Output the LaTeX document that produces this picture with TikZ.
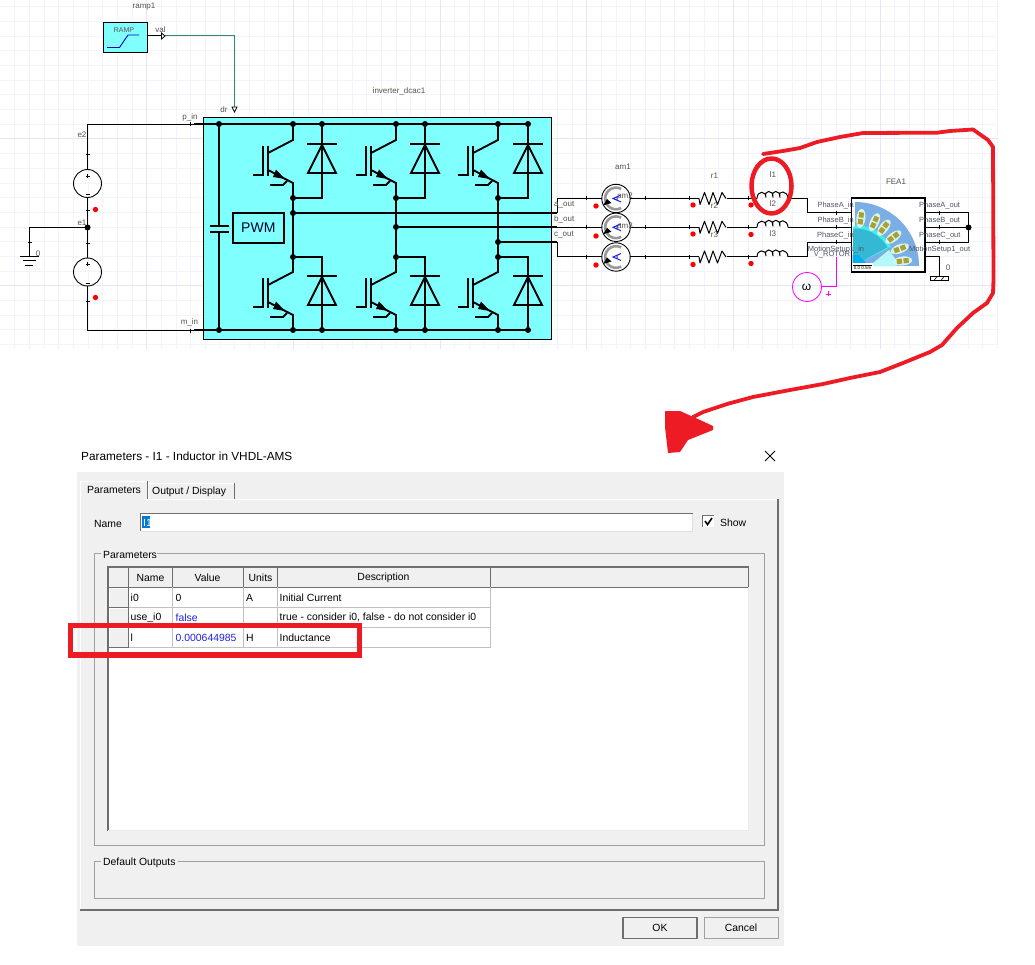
\documentclass[tikz,border=0pt]{standalone}
\usepackage{fontspec}
\setmainfont{Liberation Sans}
\definecolor{gridminor}{HTML}{F3F3FD}
\definecolor{gridmajor}{HTML}{E6E6F8}
\definecolor{blockcyan}{HTML}{80FFFF}
\definecolor{labelgrey}{HTML}{5A5048}
\definecolor{portgrey}{HTML}{4E5566}
\definecolor{wiregreen}{HTML}{2E8B62}
\definecolor{markred}{HTML}{ED1C24}
\definecolor{dotred}{HTML}{FF0000}
\definecolor{dlgbg}{HTML}{F0F0F0}
\definecolor{dlgline}{HTML}{A0A0A0}
\definecolor{dlgdark}{HTML}{6E6E6E}
\definecolor{cellline}{HTML}{C0C0C0}
\definecolor{valblue}{HTML}{2020E0}
\definecolor{selblue}{HTML}{0078D7}
\definecolor{magen}{HTML}{FF00FF}
\definecolor{statorblue}{HTML}{7AAEE4}
\definecolor{rotorteal}{HTML}{34B8D4}
\definecolor{gapcyan}{HTML}{40F0E8}
\definecolor{wedgepale}{HTML}{B4F8FA}
\definecolor{slotolive}{HTML}{A8A030}
\definecolor{slotpale}{HTML}{D8F4EC}
\tikzset{
  x=1pt,y=-1pt,
  thin wire/.style={line width=1pt,black},
  thick wire/.style={line width=1.9pt,black},
  sl/.style={font=\fontsize{8}{9}\selectfont,text=labelgrey,inner sep=0pt},
  pl/.style={font=\fontsize{7.5}{9}\selectfont,text=portgrey,inner sep=0pt},
  dl/.style={font=\fontsize{10.4}{12}\selectfont,text=black,inner sep=0pt,anchor=west},
  hcell/.style={font=\fontsize{10.4}{12}\selectfont,text=black,inner sep=0pt},
  btnface/.style={fill=dlgbg,draw=dlgdark,line width=1pt},
  dotk/.style={fill=black,draw=none},
  reddot/.style={fill=dotred,draw=none},
  redmark/.style={draw=markred,line join=round,line cap=round},
}
\newcommand{\jdot}[2]{\fill[dotk] (#1,#2) circle (3pt);}
\newcommand{\rdot}[2]{\fill[reddot] (#1,#2) circle (2.7pt);}
\newcommand{\tick}[2]{\draw[line width=.8pt] (#1-0,#2-2) -- (#1,#2+2);}
\newcommand{\vtick}[2]{\draw[line width=.8pt] (#1-2,#2) -- (#1+2,#2);}
% IGBT with diode: #1 column x, #2 base y, #3 diode offset
\newcommand{\igbtcell}[3]{%
\begin{scope}[shift={(#1,#2)}]
  \draw[thick wire] (0,2) -- (0,16) -- (-25,29);
  \draw[thick wire] (-25,22) -- (-25,52);
  \draw[thick wire] (-30,22) -- (-30,52);
  \draw[thick wire] (-40,51) -- (-29,51);
  \draw[thick wire] (-25,46) -- (0,59) -- (0,72);
  \fill[black] (-8,55) -- (-17,45.5) -- (-20,53) -- cycle;
  \draw[thick wire] (-23,61) -- (-10,61) -- (-6,57);
  \draw[thick wire] (#3-15,20) -- (#3+15,20);
  \draw[thick wire] (#3,21) -- (#3-14,49) -- (#3+14,49) -- cycle;
\end{scope}}
\newcommand{\ammeter}[2]{%
  \draw[line width=.9pt,fill=white] (#1,#2) circle (14.2pt);
  \draw[line width=2.6pt,gray!80] plot[domain=62:298,samples=30] ({#1+10.8*cos(\x)},{#2+10.8*sin(\x)});
  \fill[black] (#1-13,#2+7) -- (#1-9,#2+0.5) -- (#1-4.5,#2+4.5) -- cycle;
  \draw[valblue,line width=1pt] (#1+5,#2-3.5) -- (#1-3,#2) -- (#1+5,#2+3.5) (#1+1,#2-2) -- (#1+1,#2+2);
}
\newcommand{\resist}[2]{%
  \draw[thin wire,line join=round] (#1,#2) -- (#1+1,#2+6) -- (#1+5.5,#2-6) -- (#1+10,#2+6) -- (#1+14,#2-6) -- (#1+18.5,#2+6) -- (#1+23,#2-6) -- (#1+27,#2);
}
\newcommand{\induct}[2]{%
  \draw[thin wire] (#1,#2) .. controls (#1,#2-8) and (#1+9,#2-8) .. (#1+9,#2-1)
    .. controls (#1+6,#2-9) and (#1+17,#2-9) .. (#1+16,#2-1)
    .. controls (#1+13,#2-9) and (#1+24,#2-9) .. (#1+23,#2-1)
    .. controls (#1+20,#2-9) and (#1+31,#2-8) .. (#1+31,#2);
}
\begin{document}
\begin{tikzpicture}
\useasboundingbox (0,0) rectangle (1035,965);
\fill[white] (0,0) rectangle (1035,965);
% ---------- grid
\foreach \k in {1,...,68}{\draw[gridminor,line width=1pt] ({\k*14.67},0) -- ({\k*14.67},349);}
\foreach \k in {1,...,24}{\draw[gridminor,line width=1pt] (0,{\k*14.67-7.7}) -- (998,{\k*14.67-7.7});}
\foreach \k in {1,2,...,6}{\draw[gridmajor,line width=1pt] ({\k*146.7},0) -- ({\k*146.7},349);}
\foreach \k in {1,2}{\draw[gridmajor,line width=1pt] (0,{\k*146.7-7.7}) -- (998,{\k*146.7-7.7});}

% ---------- ramp block
\node[sl] (ramplbl) at (144,7) {ramp1};
\node[draw=black,line width=1pt,fill=blockcyan,minimum width=44pt,minimum height=30pt,inner sep=0pt] (rampbox) at (125.5,37.5) {};
\node[sl,font=\fontsize{7}{8}\selectfont] (ramptxt) at (124,30.5) {RAMP};
\draw[blue!80!black,line width=.9pt] (107,47.5) -- (119.5,47.5) -- (128,35) -- (139,35);
\coordinate (valpt) at (161.5,36);
\draw[thin wire] (rampbox.east |- valpt) -- (valpt);
\node[sl] (vallbl) at (160.5,30) {val};
\draw[wiregreen,line width=1pt] (valpt) -- (234.5,36) -- (234.5,107);
\draw[line width=.8pt,fill=white] (161.5,33) -- (165,36) -- (161.5,39) -- cycle;
\draw[line width=.8pt,fill=white] (232,107) -- (237,107) -- (234.5,112) -- cycle;
\node[sl] (drlbl) at (224,110) {dr};

% ---------- inverter
\node[sl] (invlbl) at (399,91) {inverter\_dcac1};
\node[draw=black,line width=1pt,fill=blockcyan,minimum width=347.5pt,minimum height=222pt,inner sep=0pt] (invbox) at (377.25,228.5) {};
\draw[thick wire] (194,124) -- (528,124);
\draw[thick wire] (194,330) -- (528,330);
% capacitor
\draw[thick wire] (219,124) -- (219,226) (219,232) -- (219,330);
\draw[thick wire] (210,226) -- (229,226) (210,232) -- (229,232);
\node[draw=black,line width=1.9pt,minimum width=51pt,minimum height=30pt,inner sep=0pt,font=\fontsize{14}{16}\selectfont,text=black!80!blue] (pwm) at (258.3,228) {PWM};
% cells
\igbtcell{293}{124}{29}
\igbtcell{396}{124}{29}
\igbtcell{498}{124}{30}
\igbtcell{293}{256}{29}
\igbtcell{396}{256}{29}
\igbtcell{498}{256}{30}
\foreach \cx/\dx in {293/322,396/425,498/528}{
  \draw[thick wire] (\cx,196) -- (\cx,272);
  \draw[thick wire] (\cx,198) -- (\dx,198) -- (\dx,124);
  \draw[thick wire] (\cx,257) -- (\dx,257) -- (\dx,330);
  \draw[thick wire] (\cx,316) -- (\cx,330);
  \jdot{\cx}{124}\jdot{\cx}{198}\jdot{\cx}{257}\jdot{\cx}{330}
  \jdot{\dx}{124}\jdot{\dx}{330}
}
\jdot{219}{124}\jdot{219}{330}
\draw[thick wire] (293,213) -- (557,213);
\draw[thick wire] (396,227) -- (557,227);
\draw[thick wire] (498,242) -- (557,242);
\jdot{293}{213}\jdot{396}{227}\jdot{498}{242}

% ---------- DC side
\node[sl] (pin) at (190,117) {p\_in};
\node[sl] (min) at (189.5,322.5) {m\_in};
\node[sl] (e2) at (82,135) {e2};
\node[sl] (e1) at (82,223) {e1};
\node[draw=black,line width=.9pt,circle,minimum size=28pt,inner sep=0pt] (src1) at (87.5,183.5) {};
\node[draw=black,line width=.9pt,circle,minimum size=28pt,inner sep=0pt] (src2) at (87.5,272) {};
\coordinate (e1pt) at (87.5,227.5);
\draw[thin wire] (194,124.5) -- (87.5,124.5) -- (src1.north);
\draw[thin wire] (src1.south) -- (e1pt) -- (src2.north);
\draw[thin wire] (src2.south) -- (87.5,330.5) -- (194,330.5);
\draw[thin wire] (e1pt) -- (29.5,227.5) -- (29.5,257);
\jdot{87.5}{227.5}
\vtick{87.5}{154.5}\vtick{87.5}{210}\vtick{87.5}{243}\vtick{87.5}{301}\vtick{29.5}{242}
\tick{190.5}{124.5}\tick{190.5}{330.5}
\draw[line width=.8pt] (85.5,176) -- (89.5,176) (87.5,174) -- (87.5,178) (85.5,194.5) -- (89.5,194.5);
\draw[line width=.8pt] (85.5,264) -- (89.5,264) (87.5,262) -- (87.5,266) (85.5,283) -- (89.5,283);
\rdot{95.5}{209.5}\rdot{95.5}{297.5}
\draw[line width=1pt] (20,257) -- (39,257) (23,261) -- (36,261) (25,265.5) -- (33,265.5);
\node[sl] (gnd0) at (38,254) {0};

% ---------- output labels and ammeters
\draw[thin wire] (557,213) -- (557,198.5) -- (602,198.5);
\draw[thin wire] (557,227.3) -- (602,227.3);
\draw[thin wire] (557,242) -- (557,257) -- (602,257);
\node[sl,anchor=west] (aout) at (554,205) {a\_out};
\node[sl,anchor=west] (bout) at (554,219.5) {b\_out};
\node[sl,anchor=west] (cout) at (554,234.5) {c\_out};
\foreach \y in {198.5,227.3,257}{\tick{586.7}{\y}}
\foreach \y/\n in {198.5/1,227.3/2,257/3}{
  \draw[thin wire] (630,\y) -- (699,\y);
  \draw[thin wire] (727,\y) -- (757,\y);
  \tick{645.5}{\y}\tick{689.5}{\y}\tick{748}{\y}
  \resist{699}{\y}
  \induct{757}{\y}
  \ammeter{616}{\y}
}
\node[sl] (am1) at (623,167) {am1};
\node[sl] (am2) at (625,196) {am2};
\node[sl] (am3) at (625,226) {am3};
\rdot{596}{206}\rdot{596}{236}\rdot{596}{265}
\rdot{693}{205}\rdot{693}{234}\rdot{693}{264.5}
\rdot{751}{205}\rdot{751}{234.5}\rdot{751}{263.5}
\node[sl] (r1) at (714.5,176) {r1};
\node[sl] (r2) at (714.5,206) {r2};
\node[sl] (r3) at (714.5,235) {r3};
\node[sl] (l1) at (773,175) {l1};
\node[sl] (l2) at (773,204) {l2};
\node[sl] (l3) at (773,234) {l3};

% ---------- FEA block
\node[sl] (fealbl) at (896,182) {FEA1};
\node[draw=black,line width=1pt,fill=white,minimum width=73pt,minimum height=73.5pt,inner sep=0pt] (fea) at (888,235) {};
\draw[thin wire] (788,198.5) -- (807,198.5) -- (807,212.7) -- (fea.west |- 0,212.7);
\draw[thin wire] (788,227.3) -- (fea.west |- 0,227.3);
\draw[thin wire] (788,257) -- (807,257) -- (807,242.3) -- (fea.west |- 0,242.3);
\foreach \y in {212.7,227.3,242.3}{\tick{836.5}{\y}\tick{939.5}{\y}}
\draw[thin wire] (fea.east |- 0,212.7) -- (968.5,212.7) -- (968.5,242.3) -- (fea.east |- 0,242.3);
\draw[thin wire] (fea.east |- 0,227.3) -- (968.5,227.3);
\jdot{968.5}{227.5}
\draw[thin wire] (fea.east |- 0,257) -- (939.5,257) -- (939.5,276.5);
\draw[line width=1pt,fill=white] (930.5,276.5) rectangle (948,280.5);
\draw[line width=.6pt] (934,280.5) -- (937,276.5) (941,280.5) -- (944,276.5);
\node[sl] (mg0) at (948,268) {0};
% motor section
\fill[statorblue] (855,266) -- plot[domain=0:90,samples=40] ({855+64*cos(\x)},{266-64*sin(\x)}) -- cycle;
\fill[wedgepale] (873,263) -- (889,250) -- (896,260) -- (897,266.5) -- (873,266.5) -- cycle;
\fill[gapcyan] (853,266) -- (853,226.5) -- (855,226.5) -- plot[domain=90:28,samples=20] ({855+41*cos(\x)},{266-41*sin(\x)}) -- cycle;
\fill[rotorteal] (853,266) -- (853,229.5) -- (855,229.5) -- plot[domain=90:30,samples=20] ({855+37.5*cos(\x)},{266-37.5*sin(\x)}) -- cycle;
\fill[cyan] (852.5,255) -- (858,255) -- (866,263) -- (852.5,263) -- cycle;
\foreach \a in {83,66,53,37,21,6}{
  \begin{scope}[shift={(855,266)},rotate=\a]
    \fill[slotpale] (48,0) ellipse [x radius=9.5pt,y radius=4.5pt];
    \fill[slotolive] (42,-2.5) rectangle (47.2,2.5);
    \fill[slotolive] (48.8,-2.5) rectangle (54,2.5);
  \end{scope}
}
\fill[white] (852.5,263) rectangle (873,271);
\draw[line width=.5pt] (853,265) -- (872,265);
\node[inner sep=0pt,font=\fontsize{4.5}{5}\selectfont] (scalelbl) at (862.5,268) {0.0 0.5m};
\draw[line width=1pt] (fea.south west) rectangle (fea.north east);
% port labels
\node[pl,anchor=east] (pai) at (854,206) {PhaseA\_in};
\node[pl,anchor=east] (pbi) at (854,221) {PhaseB\_in};
\node[pl,anchor=east] (pci) at (854,235.5) {PhaseC\_in};
\node[pl] (msi) at (836,250) {MotionSetup1\_in};
\node[pl,anchor=west] (pao) at (919,206) {PhaseA\_out};
\node[pl,anchor=west] (pbo) at (919,221) {PhaseB\_out};
\node[pl,anchor=west] (pco) at (919,235.5) {PhaseC\_out};
\node[pl,anchor=west] (mso) at (909,250) {MotionSetup1\_out};
\node[pl] (vrot) at (832,255) {V\_ROTOR};
% speed source
\node[draw=magen,line width=.8pt,circle,minimum size=29pt,inner sep=0pt] (omegac) at (807,287) {};
\node[inner sep=0pt,font=\fontsize{12}{12}\selectfont] (omegat) at (806.5,287) {ω};
\draw[magen,line width=1pt] (omegac.east) -- (836.5,287) -- (836.5,257);
\draw[magen,line width=.8pt] (825.5,294) -- (830.5,294) (828,291.5) -- (828,296.5);

% ---------- red hand marks
\draw[redmark,line width=4.5pt] (771.5,186) ellipse [x radius=20pt,y radius=27.5pt];
\draw[redmark,line width=3.8pt] (763,154) -- (783,151) -- (800,148) -- (817,142) -- (840,137) -- (863,133) -- (937,132.7) -- (950,131) -- (973,129.5) -- (988,140) -- (993,147) -- (993.5,280) -- (993,293) -- (987,303) -- (973,313) -- (957,328) -- (942,345) -- (930,352) -- (903,363) -- (880,372) -- (850,378) -- (823,384) -- (790,390) -- (753,397) -- (727,404) -- (703,412) -- (693,417);
\fill[markred] (665,411) -- (680,411) -- (700,420) -- (713,426) -- (713,430) -- (688,440) -- (680,452) -- (668,453) -- (665,427) -- cycle;

% ---------- dialog
\node[dl,font=\fontsize{11.8}{13}\selectfont] (title) at (81,456.5) {Parameters - I1 - Inductor in VHDL-AMS};
\node[inner sep=0pt,minimum size=10pt] (closex) at (770,456) {};
\draw[line width=.8pt] (765,451) -- (775,461) (775,451) -- (765,461);
\fill[dlgbg] (77,472) rectangle (784,946);
% tab page
\draw[white,line width=1pt] (80,910) -- (80,499) -- (778,499);
\draw[dlgdark,line width=1.2pt] (80,910) -- (778,910) -- (778,499);
% tabs
\draw[white,line width=1pt,fill=dlgbg] (80.5,499.5) -- (80.5,481) -- (147,481) -- (147,499.5);
\draw[dlgdark,line width=1pt] (147.3,481) -- (147.3,499);
\draw[white,line width=1pt] (148.5,499) -- (148.5,483) -- (234,483);
\draw[dlgdark,line width=1pt] (234.5,483) -- (234.5,498.5);
\node[dl] (tab1) at (87,489.5) {Parameters};
\node[dl] (tab2) at (152,491.5) {Output / Display};
% name row
\node[dl] (namel) at (94,523.5) {Name};
\fill[white] (140,513) rectangle (692.5,531);
\draw[dlgdark,line width=1pt] (140.5,531) -- (140.5,513.5) -- (692.5,513.5);
\draw[black!12,line width=1pt] (140.5,531) -- (692.5,531) -- (692.5,513.5);
\fill[selblue] (142,516) rectangle (150,528);
\node[dl,text=white] (nameval) at (143,522.5) {I1};
\fill[white] (702.5,515) rectangle (714,527);
\draw[dlgdark,line width=1pt] (702.5,527) -- (702.5,515.5) -- (714,515.5);
\draw[black,line width=1.6pt] (705,521) -- (707.5,524.5) -- (712,518);
\node[dl] (showl) at (720,522.5) {Show};
% groups
\draw[dlgline,line width=1pt] (94.5,553.5) rectangle (764,845.5);
\fill[dlgbg] (101,548) rectangle (157,559);
\node[dl] (grp1) at (103,554.5) {Parameters};
\draw[dlgline,line width=1pt] (94.5,861) rectangle (764,898);
\fill[dlgbg] (101,856) rectangle (178,867);
\node[dl] (grp2) at (103,862.5) {Default Outputs};
% table
\fill[white] (108,587) rectangle (748.5,830.5);
\fill[dlgbg] (108,567) rectangle (748.5,587);
\draw[dlgdark,line width=1.2pt] (108,830.5) -- (108,567) -- (748.5,567) -- (748.5,587);
\draw[dlgdark,line width=1.2pt] (108,587.3) -- (748.5,587.3);
\draw[black!8,line width=1pt] (108,830.5) -- (748.5,830.5) -- (748.5,587);
\foreach \x in {128.3,172.5,243.5,277.5,490.5}{\draw[dlgdark,line width=1pt] (\x,567) -- (\x,587);}
\foreach \y in {607.5,627.5,647.5}{
  \draw[cellline,line width=1pt] (128,\y) -- (490.5,\y);
  \fill[dlgbg] (109,\y-19.5) rectangle (128,\y-.5);
  \draw[dlgdark,line width=.8pt] (109,\y-.5) -- (128,\y-.5) -- (128,\y-19.5);
  \draw[white,line width=.8pt] (109.5,\y-.5) -- (109.5,\y-19.5) -- (128,\y-19.5);
}
\foreach \x in {172.5,243.5,277.5,490.5}{\draw[cellline,line width=1pt] (\x,587) -- (\x,647.5);}
\node[hcell] (hname) at (150.5,577.5) {Name};
\node[hcell] (hval) at (207.5,577.5) {Value};
\node[hcell] (hunit) at (260.5,577.5) {Units};
\node[hcell] (hdesc) at (383.5,577.5) {Description};
\node[dl] (c11) at (130.5,597.5) {i0};
\node[dl] (c12) at (175.5,597.5) {0};
\node[dl] (c13) at (246,597.5) {A};
\node[dl] (c14) at (279.5,597.5) {Initial Current};
\node[dl] (c21) at (130.5,617.5) {use\_i0};
\node[dl,text=valblue] (c22) at (175.5,617.5) {false};
\node[dl] (c24) at (279.5,617.5) {true - consider i0, false - do not consider i0};
\node[dl] (c31) at (130.5,637.5) {l};
\node[dl,text=valblue] (c32) at (175.5,637.5) {0.000644985};
\node[dl] (c33) at (246,637.5) {H};
\node[dl] (c34) at (279.5,637.5) {Inductance};
% red rectangle
\draw[markred,line width=5.5pt] (70.5,625.5) rectangle (359.5,655);
% buttons
\node[draw=dlgdark,line width=1.6pt,fill=dlgbg,minimum width=74pt,minimum height=21pt,inner sep=0pt,font=\fontsize{10.4}{12}\selectfont] (okbtn) at (660,928) {OK};
\node[draw=dlgline,line width=1pt,fill=dlgbg,minimum width=74pt,minimum height=21pt,inner sep=0pt,font=\fontsize{10.4}{12}\selectfont] (cancelbtn) at (741,928) {Cancel};
\end{tikzpicture}
\end{document}
